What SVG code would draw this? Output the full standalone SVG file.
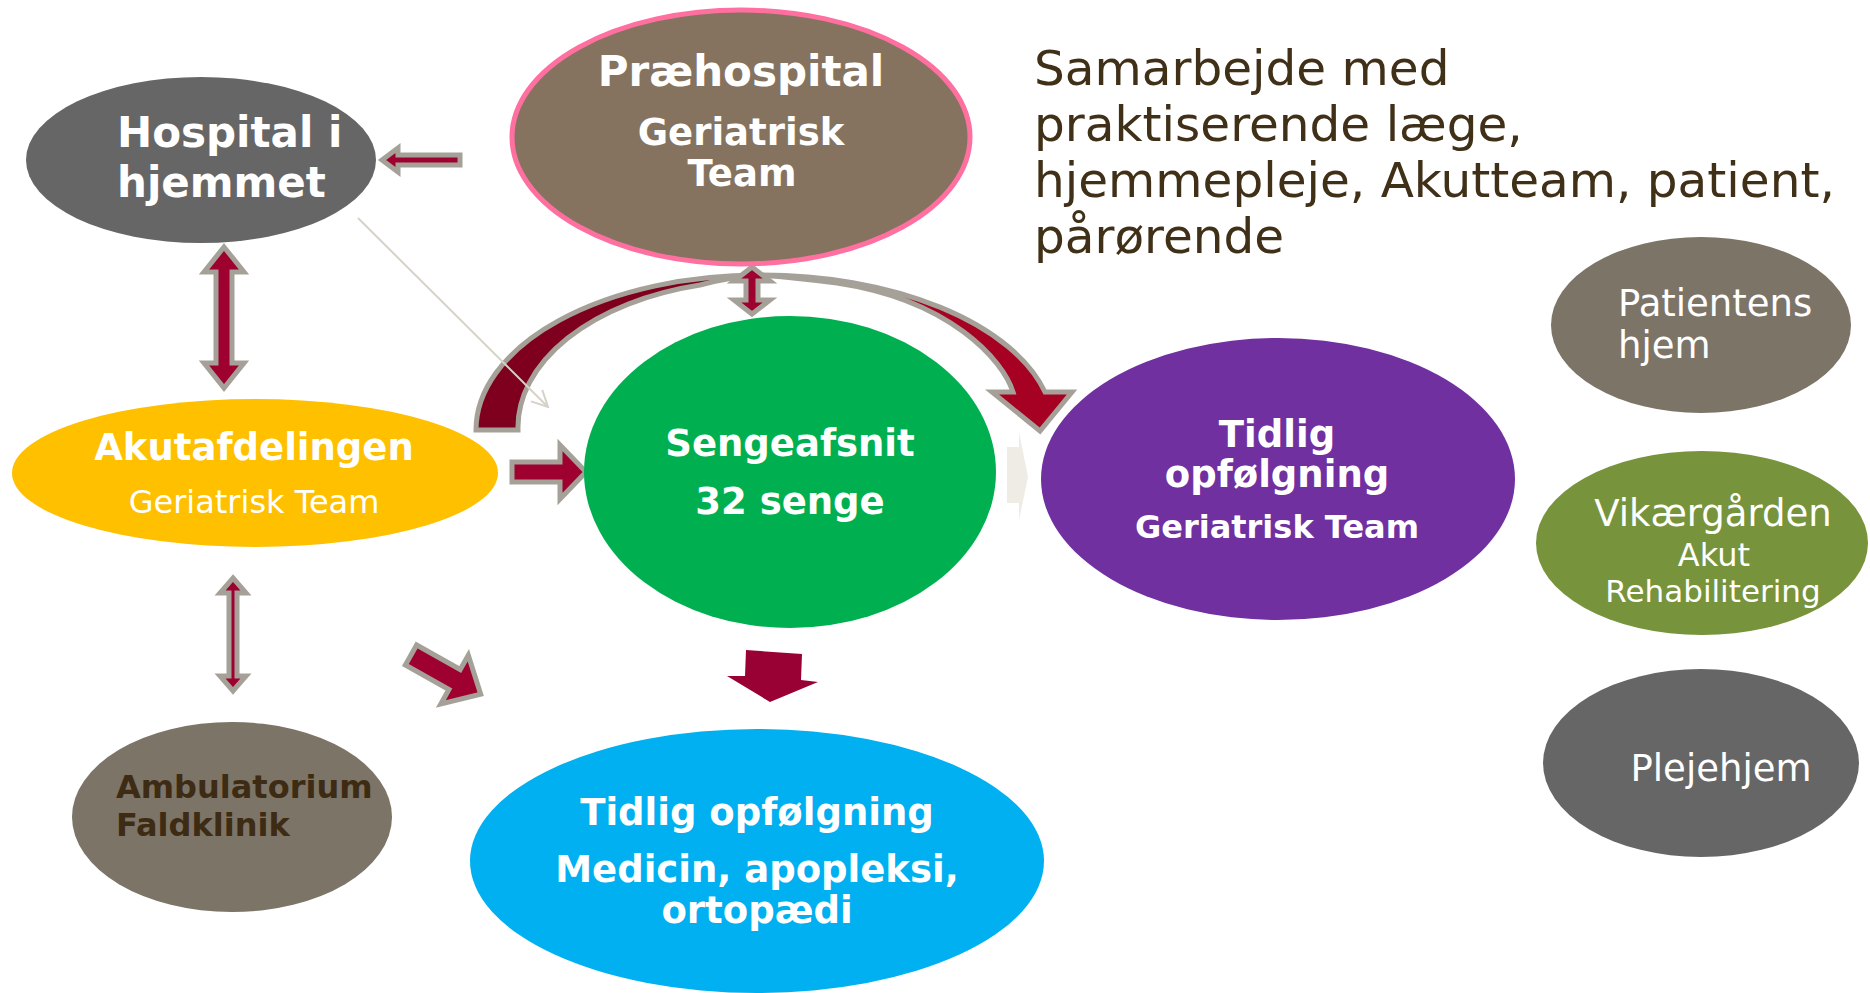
<svg xmlns="http://www.w3.org/2000/svg" width="1870" height="993" viewBox="0 0 1870 993">
<defs>
<style>
.b{font-family:"DejaVu Sans","Liberation Sans",sans-serif;font-weight:bold;fill:#ffffff}
.r{font-family:"DejaVu Sans","Liberation Sans",sans-serif;font-weight:normal;fill:#ffffff}
.c{text-anchor:middle}
.s{fill:#403018}
.arr{fill:#9E0030;stroke:#A6A198;stroke-width:5;stroke-linejoin:miter}
</style>
<marker id="vhead" markerUnits="userSpaceOnUse" viewBox="0 0 20 20" refX="18" refY="10" markerWidth="20" markerHeight="20" orient="auto">
<path d="M2,2 L18,10 L2,18" fill="none" stroke="#D6D2C8" stroke-width="2"/>
</marker>
</defs>
<rect width="1870" height="993" fill="#ffffff"/>

<g id="connectors">
<path class="arr" style="fill:#7E001E" d="M476,430 A284,155 0 0 1 760,275 Q730,277 700,285 A242,147 0 0 0 518,430 Z"/>
<path class="arr" style="fill:#A60022" d="M760,275 A292,155 0 0 1 1045,392 L1072,392 L1040,431 L992,392 L1013,392 C1003,360 950,300 837,283 Q800,278 760,275 Z"/>
<line x1="358" y1="218" x2="548" y2="407" stroke="#D6D2C8" stroke-width="2" marker-end="url(#vhead)"/>
<polygon class="arr" points="382,160 398,148 398,155 460,155 460,165 398,165 398,172"/>
<polygon class="arr" points="224,247 244,272 232,272 232,363 244,363 224,388 204,363 216,363 216,272 204,272"/>
<polygon class="arr" points="233,578 246,593 237,593 237,676 246,676 233,691 220,676 229,676 229,593 220,593"/>
<polygon class="arr" points="752,267 770,281 758,281 758,300 770,300 752,314 734,300 746,300 746,281 734,281"/>
<polygon class="arr" points="512,462 560,462 560,445 586,472 560,499 560,482 512,482"/>
<polygon class="arr" transform="translate(411,655) rotate(29.4)" points="0,-11.5 50,-11.5 50,-28 80,0 50,28 50,11.5 0,11.5"/>
<polygon fill="#990033" points="746,650 802,654 801,680 818,682 770,702 727,676 745,676"/>
<polygon fill="#EEECE4" points="1007,447 1019,447 1019,432 1028,477 1019,520 1019,503 1007,503"/>
</g>

<g id="hospital-i-hjemmet">
<ellipse cx="201" cy="160" rx="175" ry="83" fill="#666666"/>
<text class="b" x="117" y="147" font-size="42">Hospital i</text>
<text class="b" x="117" y="197" font-size="42">hjemmet</text>
</g>

<g id="praehospital">
<ellipse cx="741" cy="137" rx="229" ry="127" fill="#85735F" stroke="#FF6FA0" stroke-width="5"/>
<text class="b c" x="741" y="86" font-size="42">Præhospital</text>
<text class="b c" x="741" y="145" font-size="37">Geriatrisk</text>
<text class="b c" x="742" y="186" font-size="37">Team</text>
</g>

<g id="samarbejde">
<text class="r s" x="1034" y="85" font-size="48.5">Samarbejde med</text>
<text class="r s" x="1034" y="141" font-size="48.5">praktiserende læge,</text>
<text class="r s" x="1034" y="197" font-size="48.5">hjemmepleje, Akutteam, patient,</text>
<text class="r s" x="1034" y="253" font-size="48.5">pårørende</text>
</g>

<g id="akutafdelingen">
<ellipse cx="255" cy="473" rx="243" ry="74" fill="#FFC000"/>
<text class="b c" x="254" y="460" font-size="37">Akutafdelingen</text>
<text class="r c" x="254" y="513" font-size="32">Geriatrisk Team</text>
</g>

<g id="sengeafsnit">
<ellipse cx="790" cy="472" rx="206" ry="156" fill="#00B050"/>
<text class="b c" x="790" y="456" font-size="37">Sengeafsnit</text>
<text class="b c" x="790" y="514" font-size="37">32 senge</text>
</g>

<g id="tidlig-geriatrisk">
<ellipse cx="1278" cy="479" rx="237" ry="141" fill="#7030A0"/>
<text class="b c" x="1277" y="447" font-size="37">Tidlig</text>
<text class="b c" x="1277" y="487" font-size="37">opfølgning</text>
<text class="b c" x="1277" y="538" font-size="32">Geriatrisk Team</text>
</g>

<g id="ambulatorium">
<ellipse cx="232" cy="817" rx="160" ry="95" fill="#7B7467"/>
<text class="b" x="116" y="798" font-size="32" style="fill:#3D2B14">Ambulatorium</text>
<text class="b" x="116" y="836" font-size="32" style="fill:#3D2B14">Faldklinik</text>
</g>

<g id="tidlig-medicin">
<ellipse cx="757" cy="861" rx="287" ry="132" fill="#00B0F0"/>
<text class="b c" x="757" y="825" font-size="37">Tidlig opfølgning</text>
<text class="b c" x="757" y="882" font-size="37">Medicin, apopleksi,</text>
<text class="b c" x="757" y="923" font-size="37">ortopædi</text>
</g>

<g id="patientens-hjem">
<ellipse cx="1701" cy="325" rx="150" ry="88" fill="#7B7467"/>
<text class="r" x="1618" y="316" font-size="37">Patientens</text>
<text class="r" x="1618" y="358" font-size="37">hjem</text>
</g>

<g id="vikaergaarden">
<ellipse cx="1702" cy="543" rx="166" ry="92" fill="#77933C"/>
<text class="r c" x="1713" y="526" font-size="37">Vikærgården</text>
<text class="r c" x="1714" y="566" font-size="32">Akut</text>
<text class="r c" x="1713" y="602" font-size="31">Rehabilitering</text>
</g>

<g id="plejehjem">
<ellipse cx="1701" cy="763" rx="158" ry="94" fill="#666666"/>
<text class="r c" x="1721" y="781" font-size="37">Plejehjem</text>
</g>
</svg>
